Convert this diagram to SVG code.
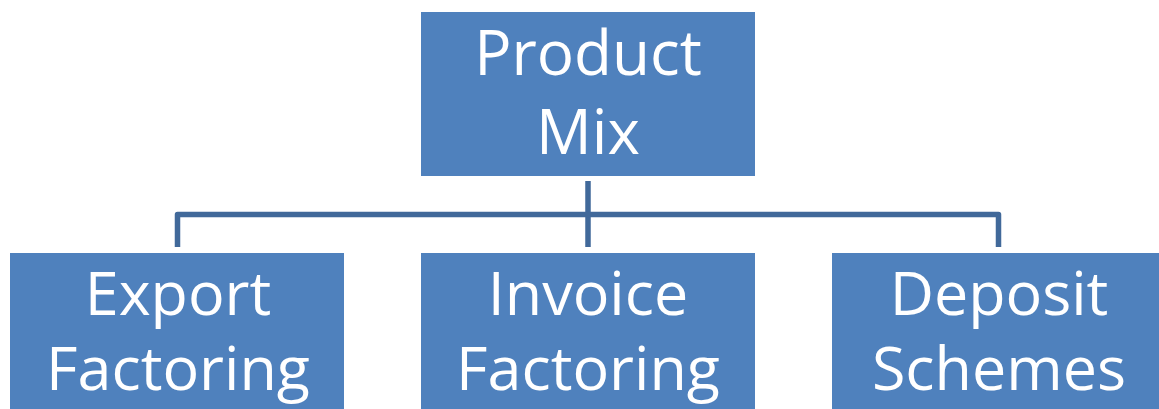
<svg xmlns="http://www.w3.org/2000/svg" width="1159" height="409" viewBox="0 0 1159 409">
  <style>
    .box { fill: #4F81BD; }
    .label { fill: #FFFFFF; font-family: "Open Sans", "Liberation Sans", sans-serif; text-anchor: middle; }
    .top { font-size: 62px; }
    .child { font-size: 61px; }
    .link { fill: none; stroke: #41699A; stroke-width: 5.5; stroke-linejoin: round; }
  </style>
  <rect width="1159" height="409" fill="#FFFFFF"/>

  <!-- connectors -->
  <g id="connectors">
    <path class="link" d="M588,181 V247"/>
    <path class="link" d="M177.5,247 V214.5 H998.5 V247"/>
  </g>

  <!-- root -->
  <g id="product-mix">
    <rect class="box" x="421" y="12" width="334" height="164"/>
    <text class="label top" x="588" y="75">Product</text>
    <text class="label top" x="588" y="154">Mix</text>
  </g>

  <!-- children -->
  <g id="export-factoring">
    <rect class="box" x="10" y="253" width="334" height="160"/>
    <text class="label child" x="178" y="315">Export</text>
    <text class="label child" x="178" y="390">Factoring</text>
  </g>
  <g id="invoice-factoring">
    <rect class="box" x="421" y="253" width="334" height="160"/>
    <text class="label child" x="588" y="315">Invoice</text>
    <text class="label child" x="588" y="390">Factoring</text>
  </g>
  <g id="deposit-schemes">
    <rect class="box" x="832" y="253" width="334" height="160"/>
    <text class="label child" x="999" y="315">Deposit</text>
    <text class="label child" x="999" y="390">Schemes</text>
  </g>
</svg>
